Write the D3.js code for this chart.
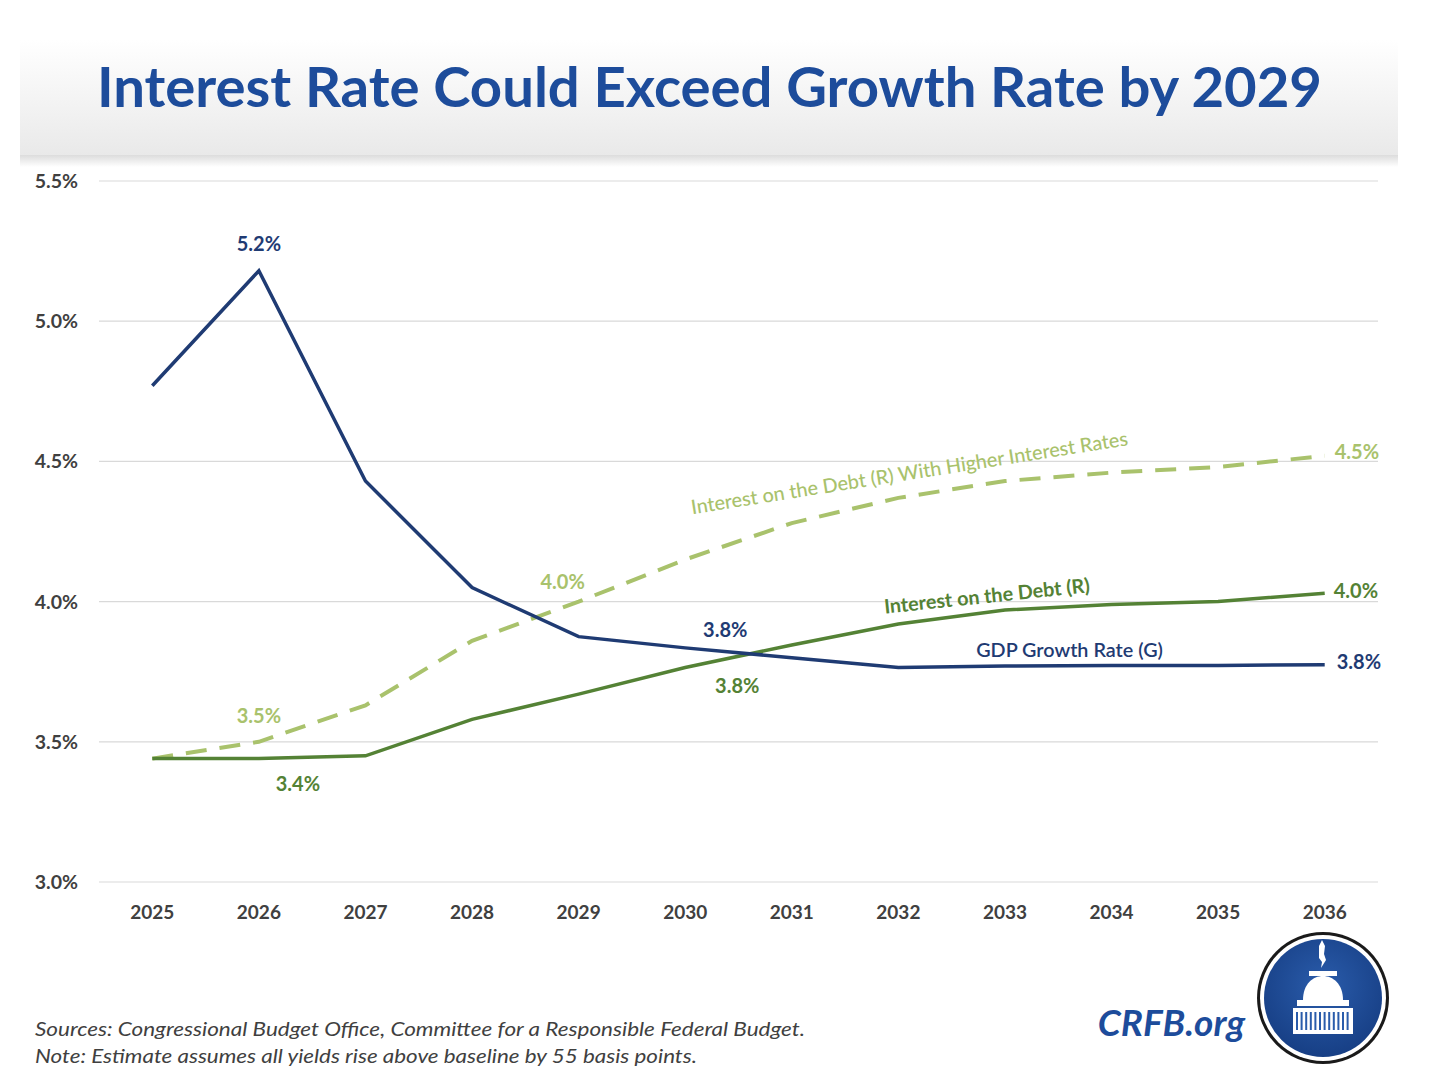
<!DOCTYPE html>
<html lang="en">
<head>
   <meta charset="UTF-8">
   <title>Interest Rate Could Exceed Growth Rate by 2029</title>
   <script src="https://cdn.jsdelivr.net/npm/d3@7"></script>
   <style>
      body { margin: 0; background: #fff; }
      svg { display: block; font-family: Lato, "Open Sans", sans-serif; }
   </style>
</head>
<body>
   <svg width="1440" height="1080"></svg>

   <script>
       // data (percent)
       const years = [2025, 2026, 2027, 2028, 2029, 2030, 2031, 2032, 2033, 2034, 2035, 2036];
       const gdpGrowth = [4.77, 5.18, 4.43, 4.05, 3.875, 3.835, 3.80, 3.765, 3.77, 3.772, 3.772, 3.775];
       const interestDebt = [3.44, 3.44, 3.45, 3.58, 3.67, 3.765, 3.845, 3.92, 3.97, 3.99, 4.00, 4.03];
       const interestHigher = [3.44, 3.50, 3.63, 3.86, 4.00, 4.15, 4.28, 4.37, 4.43, 4.46, 4.48, 4.52];
       const yTicks = [3.0, 3.5, 4.0, 4.5, 5.0, 5.5];

       const svg = d3.select('svg');
       const plotLeft = 99, plotRight = 1378, plotTop = 181, plotBottom = 882;

       const x = d3.scalePoint().domain(years).range([plotLeft, plotRight]).padding(0.5);
       const y = d3.scaleLinear().domain([3.0, 5.5]).range([plotBottom, plotTop]);
       const pct = v => d3.format('.1f')(v) + '%';

       const navy = '#1f3b73', green = '#548235', light = '#a9c26c';

       // title band
       const defs = svg.append('defs');
       const grad = defs.append('linearGradient').attr('id', 'band').attr('x1', 0).attr('y1', 0).attr('x2', 0).attr('y2', 1);
       grad.append('stop').attr('offset', '0%').attr('stop-color', '#ffffff');
       grad.append('stop').attr('offset', '100%').attr('stop-color', '#e9e9e9');
       const shade = defs.append('linearGradient').attr('id', 'shade').attr('x1', 0).attr('y1', 0).attr('x2', 0).attr('y2', 1);
       shade.append('stop').attr('offset', '0%').attr('stop-color', '#dcdcdc');
       shade.append('stop').attr('offset', '100%').attr('stop-color', '#ffffff');
       const logoGrad = defs.append('radialGradient').attr('id', 'logo').attr('cx', '50%').attr('cy', '40%').attr('r', '60%');
       logoGrad.append('stop').attr('offset', '0%').attr('stop-color', '#2a5cab');
       logoGrad.append('stop').attr('offset', '100%').attr('stop-color', '#173f85');

       svg.append('rect').attr('x', 20).attr('y', 40).attr('width', 1378).attr('height', 116).attr('fill', 'url(#band)');
       svg.append('rect').attr('x', 20).attr('y', 155).attr('width', 1378).attr('height', 12).attr('fill', 'url(#shade)');

       svg.append('text')
           .attr('x', 97).attr('y', 107)
           .attr('textLength', 1225).attr('lengthAdjust', 'spacingAndGlyphs')
           .attr('fill', '#1d4c9b')
           .attr('font-size', 56).attr('font-weight', 700)
           .text('Interest Rate Could Exceed Growth Rate by 2029');

       // gridlines + y labels
       const yAxis = svg.append('g');
       yAxis.selectAll('line').data(yTicks).join('line')
           .attr('x1', plotLeft).attr('x2', plotRight)
           .attr('y1', d => y(d)).attr('y2', d => y(d))
           .attr('stroke', '#d9d9d9').attr('stroke-width', 1.2);
       yAxis.selectAll('text').data(yTicks).join('text')
           .attr('x', 78).attr('y', d => y(d) + 7)
           .attr('text-anchor', 'end')
           .attr('font-size', 19.5).attr('font-weight', 700).attr('fill', '#404040')
           .text(d => pct(d));

       // x labels
       svg.append('g').selectAll('text').data(years).join('text')
           .attr('x', d => x(d)).attr('y', 919)
           .attr('text-anchor', 'middle')
           .attr('font-size', 19).attr('font-weight', 700).attr('fill', '#404040')
           .text(d => d);

       // lines
       const line = d3.line().x((d, i) => x(years[i])).y(d => y(d));
       svg.append('path').datum(interestHigher).attr('d', line)
           .attr('fill', 'none').attr('stroke', light).attr('stroke-width', 4)
           .attr('stroke-dasharray', '21 13');
       svg.append('path').datum(interestDebt).attr('d', line)
           .attr('fill', 'none').attr('stroke', green).attr('stroke-width', 3.5);
       svg.append('path').datum(gdpGrowth).attr('d', line)
           .attr('fill', 'none').attr('stroke', navy).attr('stroke-width', 3.5);

       // value labels: series, point index, offset, anchor
       const series = { gdp: [gdpGrowth, navy], debt: [interestDebt, green], higher: [interestHigher, light] };
       const valueLabels = [
           ['gdp', 1, 0, -27, 'middle'],
           ['higher', 1, 0, -26, 'middle'],
           ['debt', 1, 39, 25, 'middle'],
           ['higher', 4, -16, -20, 'middle'],
           ['gdp', 5, 40, -18, 'middle'],
           ['debt', 5, 52, 19, 'middle'],
           ['higher', 11, 10, -4, 'start'],
           ['debt', 11, 9, -2, 'start'],
           ['gdp', 11, 12, -3, 'start']
       ];
       svg.append('g').selectAll('text').data(valueLabels).join('text')
           .attr('x', d => x(years[d[1]]) + d[2])
           .attr('y', d => y(series[d[0]][0][d[1]]) + d[3] + 7)
           .attr('text-anchor', d => d[4])
           .attr('font-size', 20).attr('font-weight', 700)
           .attr('fill', d => series[d[0]][1])
           .text(d => pct(series[d[0]][0][d[1]]));

       // series names: series, point index, offset, rotation, weight
       const nameLabels = [
           ['higher', 7, 11, -25, -9, 'Interest on the Debt (R) With Higher Interest Rates', 500],
           ['debt', 8, -18, -14, -6, 'Interest on the Debt (R)', 700],
           ['gdp', 9, -42, -15, 0, 'GDP Growth Rate (G)', 600]
       ];
       svg.append('g').selectAll('text').data(nameLabels).join('text')
           .attr('transform', d => `translate(${x(years[d[1]]) + d[2]},${y(series[d[0]][0][d[1]]) + d[3]}) rotate(${d[4]})`)
           .attr('dy', '0.35em')
           .attr('text-anchor', 'middle')
           .attr('font-size', 19.8).attr('font-weight', d => d[6])
           .attr('fill', d => series[d[0]][1])
           .text(d => d[5]);

       // footnotes
       const notes = ['Sources: Congressional Budget Office, Committee for a Responsible Federal Budget.',
                      'Note: Estimate assumes all yields rise above baseline by 55 basis points.'];
       const noteWidths = [770, 662];
       svg.append('g').selectAll('text').data(notes).join('text')
           .attr('x', 35).attr('y', (d, i) => 1036 + i * 27)
           .attr('textLength', (d, i) => noteWidths[i]).attr('lengthAdjust', 'spacingAndGlyphs')
           .attr('font-size', 20).attr('font-style', 'italic').attr('fill', '#404040')
           .text(d => d);

       // logo
       svg.append('text')
           .attr('x', 1245).attr('y', 1036).attr('text-anchor', 'end')
           .attr('font-size', 37).attr('font-weight', 700).attr('font-style', 'italic')
           .attr('fill', '#1d4c9b').text('CRFB.org');

       const logo = svg.append('g').attr('transform', 'translate(1323,998)');
       logo.append('circle').attr('r', 66).attr('fill', '#1a1a1a');
       logo.append('circle').attr('r', 63).attr('fill', '#ffffff');
       logo.append('circle').attr('r', 59).attr('fill', 'url(#logo)');
       // capitol dome sketch
       logo.append('path').attr('fill', '#fff')
           .attr('d', 'M-4,-52 L-1,-58 L2,-52 L1,-44 L3,-38 L-2,-30 L-1,-36 L-4,-40 Z');
       logo.append('path').attr('fill', '#fff')
           .attr('d', 'M-20,2 C-20,-14 -10,-22 0,-22 C10,-22 20,-14 20,2 Z');
       logo.append('rect').attr('x', -14).attr('y', -27).attr('width', 28).attr('height', 5).attr('fill', '#fff');
       logo.append('rect').attr('x', -26).attr('y', 2).attr('width', 52).attr('height', 6).attr('fill', '#fff');
       logo.append('rect').attr('x', -30).attr('y', 10).attr('width', 60).attr('height', 26).attr('fill', '#fff');
       logo.append('g').selectAll('rect').data(d3.range(12)).join('rect')
           .attr('x', d => -27 + d * 4.6).attr('y', 14).attr('width', 2).attr('height', 18).attr('fill', '#2a5cab');
   </script>
</body>
</html>
